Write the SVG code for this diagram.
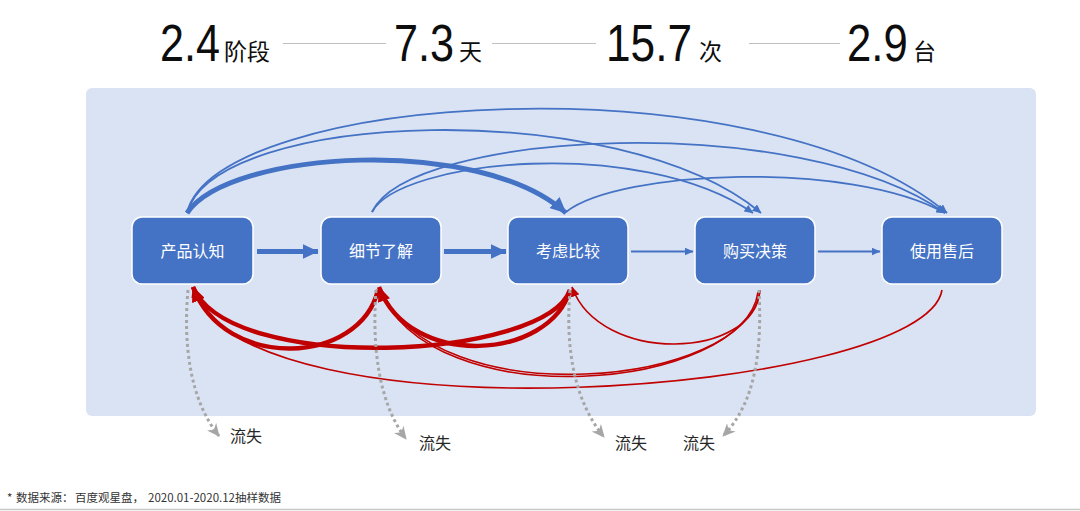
<svg xmlns="http://www.w3.org/2000/svg" width="1080" height="511" viewBox="0 0 1080 511">
<defs>
<style>
.num{font-family:"Liberation Sans",Arial,sans-serif;font-size:52px;fill:#0D0D0D}
.unit{font-family:"Noto Sans CJK SC","Noto Sans",sans-serif;font-size:23px;fill:#0D0D0D}
.sep{stroke:#BFBFBF;stroke-width:1}
.node rect{fill:#4472C4;stroke:#FFFFFF;stroke-width:1.5}
.node text{font-family:"Noto Sans CJK SC","Noto Sans",sans-serif;font-size:16px;fill:#FFFFFF;text-anchor:middle}
.bt{fill:none;stroke:#4472C4;stroke-width:1.8}
.bk{fill:none;stroke:#4472C4;stroke-width:5}
.rt{fill:none;stroke:#C00000;stroke-width:1.6}
.rk{fill:none;stroke:#C00000;stroke-width:4.5}
.dot{fill:none;stroke:#A6A6A6;stroke-width:3;stroke-dasharray:3 3}
.lbl{font-family:"Noto Sans CJK SC","Noto Sans",sans-serif;font-size:16px;fill:#262626}
.foot{font-family:"Noto Sans CJK SC","Noto Sans",sans-serif;font-size:11.5px;fill:#333333}
</style>
<marker id="bs" markerUnits="userSpaceOnUse" markerWidth="9" markerHeight="8" refX="8.5" refY="4" orient="auto"><path d="M0,0 L9,4 L0,8 z" fill="#4472C4"/></marker>
<marker id="bl" markerUnits="userSpaceOnUse" markerWidth="16" markerHeight="15" refX="15.5" refY="7.5" orient="auto"><path d="M0,0 L16,7.5 L0,15 z" fill="#4472C4"/></marker>
<marker id="rs" markerUnits="userSpaceOnUse" markerWidth="10" markerHeight="9" refX="9.5" refY="4.5" orient="auto"><path d="M0,0 L10,4.5 L0,9 z" fill="#C00000"/></marker>
<marker id="rl" markerUnits="userSpaceOnUse" markerWidth="15" markerHeight="13" refX="14.5" refY="6.5" orient="auto"><path d="M0,0 L15,6.5 L0,13 z" fill="#C00000"/></marker>
<marker id="gh" markerUnits="userSpaceOnUse" markerWidth="13" markerHeight="12" refX="12" refY="6" orient="auto"><path d="M0,0 L13,6 L0,12 L4,6 z" fill="#A6A6A6"/></marker>
</defs>

<rect width="1080" height="511" fill="#FFFFFF"/>

<g id="header">
<text class="num" transform="translate(160,60.5) scale(0.83,1)">2.4</text>
<text class="unit" x="224" y="60">阶段</text>
<line class="sep" x1="283" y1="43.5" x2="386" y2="43.5"/>
<text class="num" transform="translate(394,60.5) scale(0.83,1)">7.3</text>
<text class="unit" x="459" y="60">天</text>
<line class="sep" x1="492" y1="43.5" x2="596" y2="43.5"/>
<text class="num" transform="translate(606,60.5) scale(0.85,1)">15.7</text>
<text class="unit" x="699" y="60">次</text>
<line class="sep" x1="749" y1="43.5" x2="840" y2="43.5"/>
<text class="num" transform="translate(847,60.5) scale(0.84,1)">2.9</text>
<text class="unit" x="913" y="60">台</text>
</g>

<rect id="panel" x="86" y="88" width="950" height="328" rx="6" fill="#DAE3F3"/>

<g id="connectors">
<path class="bk" d="M257,251.5 L318,251.5" marker-end="url(#bl)"/>
<path class="bk" d="M444,251.5 L506,251.5" marker-end="url(#bl)"/>
<path class="bt" d="M631,251.5 L693,251.5" marker-end="url(#bs)"/>
<path class="bt" d="M818,251.5 L880,251.5" marker-end="url(#bs)"/>
<path class="bt" d="M187,213 C215,92 760,57 947,213" marker-end="url(#bs)"/>
<path class="bt" d="M187,213 C215,110 620,95 761,213" marker-end="url(#bs)"/>
<path class="bk" d="M187,213 C230,150 480,135 566,213" marker-end="url(#bl)"/>
<path class="bt" d="M372,212 C410,130 800,110 945,213" marker-end="url(#bs)"/>
<path class="bt" d="M372,212 C400,160 640,135 753,213" marker-end="url(#bs)"/>
<path class="bt" d="M566,212 C620,170 850,160 945,213" marker-end="url(#bs)"/>
<path class="rk" d="M378,290 C360,365 225,372 193,287" marker-end="url(#rl)"/>
<path class="rk" d="M570,290 C545,360 230,375 193,287" marker-end="url(#rl)"/>
<path class="rk" d="M570,290 C550,360 410,370 379,287" marker-end="url(#rl)"/>
<path class="rt" d="M760,290 C755,360 600,365 572,287" marker-end="url(#rs)"/>
<path class="rt" d="M758,292 C745,390 430,420 379,288" marker-end="url(#rs)"/>
<path class="rt" d="M760,291 C748,387 433,417 381,289"/>
<path class="rt" d="M942,290 C925,395 240,445 193,288" marker-end="url(#rs)"/>
<path class="dot" d="M188,290 C183,345 190,400 219,436" marker-end="url(#gh)"/>
<path class="dot" d="M376,290 C372,345 378,402 406,439" marker-end="url(#gh)"/>
<path class="dot" d="M570,290 C565,350 575,402 604,437" marker-end="url(#gh)"/>
<path class="dot" d="M759,290 C762,350 756,402 723,436" marker-end="url(#gh)"/>
</g>

<g id="n1" class="node"><rect x="132" y="217" width="121" height="67" rx="10"/><text x="192.5" y="256.5">产品认知</text></g>
<g id="n2" class="node"><rect x="321" y="217" width="120" height="67" rx="10"/><text x="381" y="256.5">细节了解</text></g>
<g id="n3" class="node"><rect x="508" y="217" width="120" height="67" rx="10"/><text x="568" y="256.5">考虑比较</text></g>
<g id="n4" class="node"><rect x="695" y="217" width="120" height="67" rx="10"/><text x="755" y="256.5">购买决策</text></g>
<g id="n5" class="node"><rect x="882" y="217" width="120" height="67" rx="10"/><text x="942" y="256.5">使用售后</text></g>

<g id="labels">
<text class="lbl" x="230" y="442">流失</text>
<text class="lbl" x="419" y="449">流失</text>
<text class="lbl" x="615" y="449">流失</text>
<text class="lbl" x="683" y="449">流失</text>
</g>

<g id="footnote">
<text class="foot" x="7" y="502">*</text>
<text class="foot" x="16" y="502">数据来源：</text>
<text class="foot" x="75" y="502">百度观星盘，</text>
<text class="foot" x="148" y="502">2020.01-2020.12抽样数据</text>
<line x1="0" y1="509.5" x2="1080" y2="509.5" stroke="#C8C8C8" stroke-width="1.5"/>
</g>
</svg>
